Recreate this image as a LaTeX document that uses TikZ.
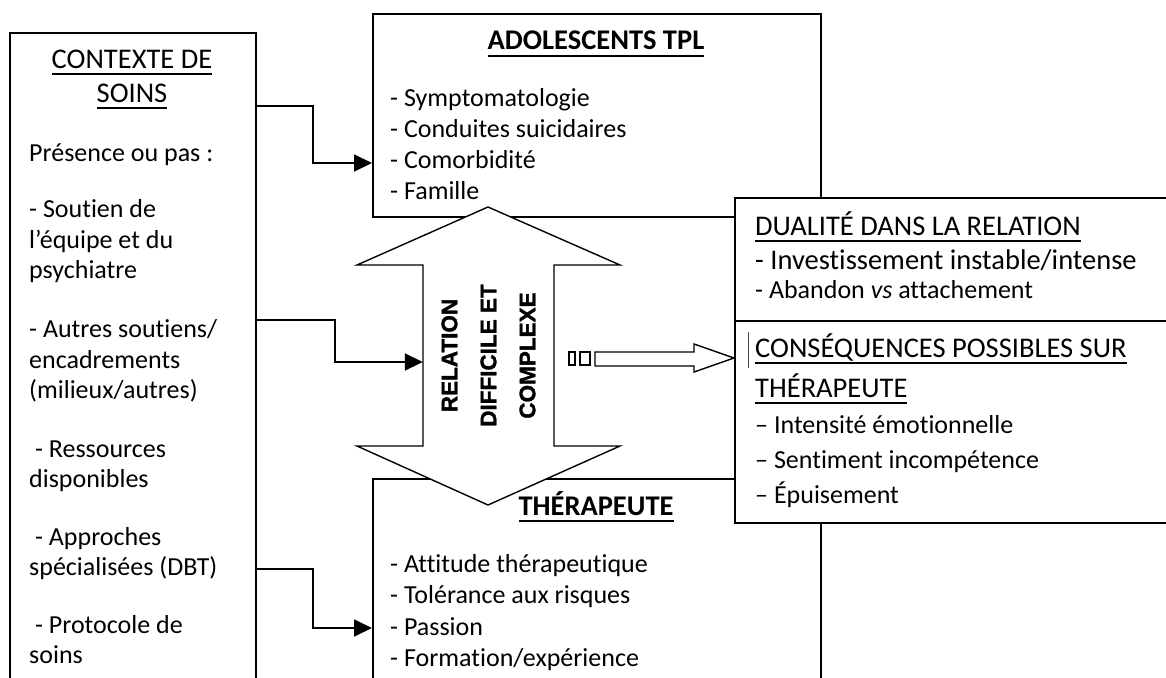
\documentclass[tikz,border=0pt]{standalone}
\usepackage{fontspec}
\setmainfont{Carlito}[Ligatures={TeX,NoCommon}]
\newfontfamily\arrowfont{Liberation Sans}[BoldFeatures={FakeBold=1.5}]
\usetikzlibrary{arrows.meta}
\newcommand{\uln}[1]{\leavevmode\setbox0\hbox{#1}\rlap{\rule[-6.5pt]{\wd0}{1.6pt}}\box0}
\newcommand{\boxfont}{\fontsize{26}{31}\selectfont}
\newcommand{\headfont}{\fontsize{28.5}{34}\selectfont}
\tikzstyle{box} = [draw, line width=1.8pt, fill=white, anchor=north west, inner sep=0pt]
\tikzstyle{line} = [anchor=base west, inner sep=0pt, font=\boxfont]
\tikzstyle{head} = [anchor=base, inner sep=0pt, font=\headfont]
\tikzstyle{link} = [line width=1.8pt, -{Triangle[length=18pt,width=17pt]}]
\tikzstyle{hollow} = [draw, fill=white, line width=1.4pt, line join=miter]

\begin{document}
\begin{tikzpicture}[x=1pt, y=-1pt]
\clip (0,0) rectangle (1166,677);

%boxes
\node (ado) [box, minimum width=448, minimum height=203] at (372,13) {};
\node (thr) [box, minimum width=448, minimum height=240] at (372,478) {};

%texts
\node (adot) [head, font=\headfont\bfseries] at (596,50) {\uln{ADOLESCENTS TPL}};
\foreach \y/\t [count=\i] in {106/{- Symptomatologie}, 137/{- Conduites suicidaires},
    168/{- Comorbidité}, 199/{- Famille}}
  \node (ado\i) [line] at (390,\y) {\t};
\node (thrt) [head, font=\headfont\bfseries] at (596,515) {\uln{THÉRAPEUTE}};
\foreach \y/\t [count=\i] in {572/{- Attitude thérapeutique}, 603/{- Tolérance aux risques},
    635/{- Passion}, 666/{- Formation/expérience}}
  \node (thr\i) [line] at (390,\y) {\t};

%double arrow
\draw [hollow] (488,207) -- (357,265) -- (423,265) -- (423,446) -- (357,446) -- (488,505)
  -- (620,446) -- (554,446) -- (554,265) -- (620,265) -- cycle;
\node (rel) [minimum width=131, minimum height=181] at (488.5,355.5) {};
\node (relt) [rotate=90, align=center, font=\arrowfont\bfseries\fontsize{22.5}{39}\selectfont] at (rel) {RELATION\\DIFFICILE ET\\COMPLEXE};

%right boxes
\node (dua) [box, minimum width=460, minimum height=123] at (734,197) {};
\node (csq) [box, minimum width=460, minimum height=202] at (734,320) {};
\foreach \y/\t [count=\i] in {235/{\headfont\uln{DUALITÉ DANS LA RELATION}},
    269/{\headfont - Investissement instable/intense}, 298/{- Abandon \textit{vs} attachement}}
  \node (dua\i) [line] at (755,\y) {\t};
\foreach \y/\t [count=\i] in {357/{\headfont\uln{CONSÉQUENCES POSSIBLES SUR}}, 397/{\headfont\uln{THÉRAPEUTE}},
    433/{– Intensité émotionnelle}, 468/{– Sentiment incompétence}, 503/{– Épuisement}}
  \node (csq\i) [line] at (755,\y) {\t};
\draw [line width=0.8pt, black!70] (748,332) -- (748,368);

%left box
\node (ctx) [box, minimum width=246, minimum height=700] at (9,32) {};
\node (ctxt1) [head] at (132,68) {\uln{CONTEXTE DE}};
\node (ctxt2) [head] at (132,102) {\uln{SOINS}};
\foreach \y/\t [count=\i] in {161/{Présence ou pas :}, 217/{- Soutien de}, 248/{l’équipe et du},
    278/{psychiatre}, 337/{- Autres soutiens/}, 368/{encadrements}, 398/{(milieux/autres)},
    457/{\ - Ressources}, 487/{disponibles}, 545/{\ - Approches}, 575/{spécialisées (DBT)},
    633/{\ - Protocole de}, 663/{soins}}
  \node (ctx\i) [line] at (29,\y) {\t};

%arrows
\draw [link] (ctx.east |- 0,106) -- (313,106) -- (313,163) -- (ado.west |- 0,163);
\draw [link] (ctx.east |- 0,320) -- (335,320) -- (335,362) -- (rel.west |- 0,362);
\draw [link] (ctx.east |- 0,569) -- (313,569) -- (313,628) -- (thr.west |- 0,628);

%striped arrow
\draw [hollow] (569,352) rectangle (575,365);
\draw [hollow] (580,352) rectangle (590,365);
\draw [hollow] (595,352) -- (694,352) -- (694,344) -- (csq.west |- 0,358) -- (694,372)
  -- (694,366) -- (595,366) -- cycle;

\end{tikzpicture}
\end{document}
